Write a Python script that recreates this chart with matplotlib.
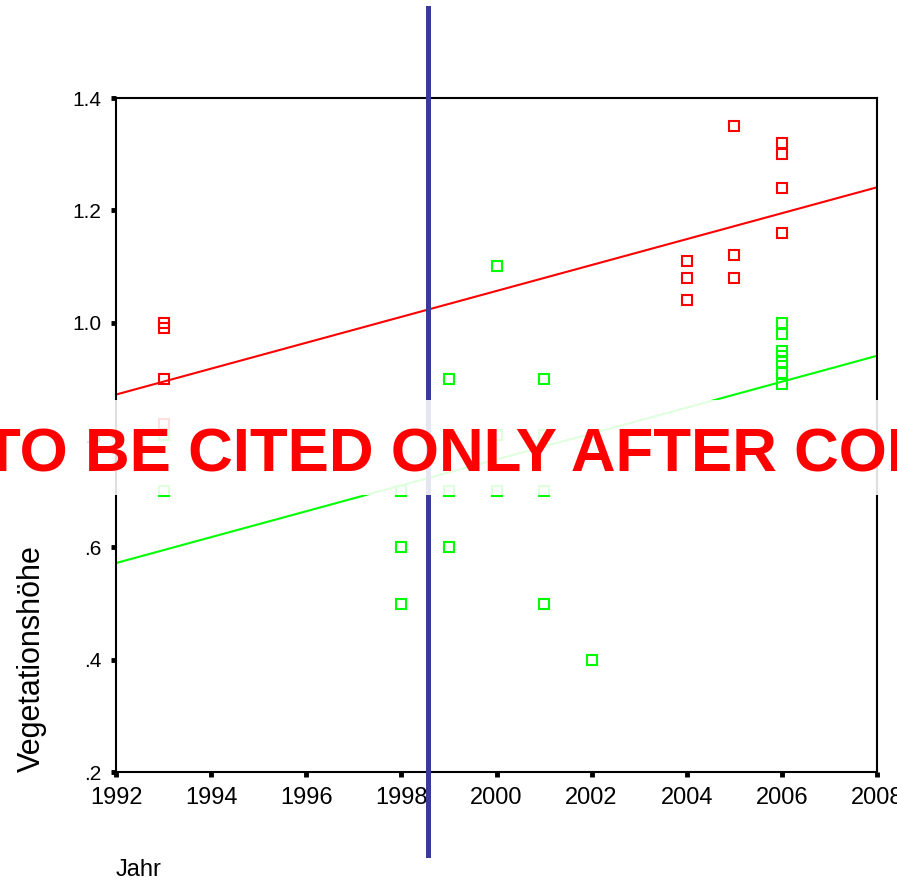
import matplotlib
matplotlib.use('Agg')
import matplotlib.pyplot as plt
from matplotlib.ticker import FuncFormatter
from matplotlib.patches import Rectangle

plt.rcParams['font.family'] = ['Liberation Sans', 'DejaVu Sans']

# red group
red_years = [1993, 1993, 1993, 1993, 2004, 2004, 2004, 2005, 2005, 2005,
             2006, 2006, 2006, 2006]
red_height = [1.00, 0.99, 0.90, 0.82, 1.11, 1.08, 1.04, 1.35, 1.12, 1.08,
              1.32, 1.30, 1.24, 1.16]

# green group
green_years = [1993, 1993, 1998, 1998, 1998, 1999, 1999, 1999, 1999,
               2000, 2000, 2000, 2001, 2001, 2001, 2001, 2002,
               2006, 2006, 2006, 2006, 2006, 2006, 2006, 2006]
green_height = [0.80, 0.70, 0.70, 0.60, 0.50, 0.90, 0.80, 0.70, 0.60,
                1.10, 0.80, 0.70, 0.90, 0.80, 0.70, 0.50, 0.40,
                1.00, 0.98, 0.95, 0.94, 0.93, 0.91, 0.91, 0.89]

# regression lines
fit_years = [1992, 2008]
red_fit = [0.872, 1.241]
green_fit = [0.572, 0.941]

cut_year = 1998.56
x_ticks = [1992, 1994, 1996, 1998, 2000, 2002, 2004, 2006, 2008]
y_ticks = [0.2, 0.4, 0.6, 0.8, 1.0, 1.2, 1.4]

fig = plt.figure(figsize=(8.97, 8.88), dpi=100)
ax = fig.add_axes([116/897, 116/888, 761/897, 674/888])

ax.plot(fit_years, red_fit, color='#ff0000', lw=1.5, zorder=2)
ax.plot(fit_years, green_fit, color='#00ff00', lw=1.5, zorder=2)
ax.plot(red_years, red_height, 's', ms=6.5, mfc='none', mec='#ff0000', mew=1.5, zorder=3)
ax.plot(green_years, green_height, 's', ms=6.5, mfc='none', mec='#00ff00', mew=1.5, zorder=3)

# vertical marker line, runs past the frame
ax.axvline(cut_year, ymin=-0.123, ymax=1.134, color='#3a3a9c', lw=3.6,
           clip_on=False, zorder=4)

ax.set_xlim(1992, 2008)
ax.set_ylim(0.2, 1.4)
ax.set_xticks(x_ticks)
ax.set_yticks(y_ticks)
ax.yaxis.set_major_formatter(FuncFormatter(lambda v, p: ('%.1f' % v).lstrip('0')))
ax.tick_params(direction='out', length=3.5, width=3.5, color='black')
ax.tick_params(axis='y', labelsize=15, pad=7)
ax.tick_params(axis='x', labelsize=17, pad=7)
for s in ax.spines.values():
    s.set_linewidth(1.5)

ax.set_ylabel('Vegetationshöhe', fontsize=22, loc='bottom', labelpad=18)
ax.set_xlabel('Jahr', fontsize=17, loc='left', labelpad=36)

# watermark band
band = Rectangle((0, 393/888), 1, 95/888, transform=fig.transFigure,
                 facecolor='white', alpha=0.88, edgecolor='none', zorder=5)
fig.patches.append(band)
fig.text(-17/897, 417/888, 'TO BE CITED ONLY AFTER CONSULTATION', color='#ff0000',
         fontsize=44.6, fontweight='bold', va='baseline', ha='left', zorder=6)

fig.savefig('out.png', dpi=100)
